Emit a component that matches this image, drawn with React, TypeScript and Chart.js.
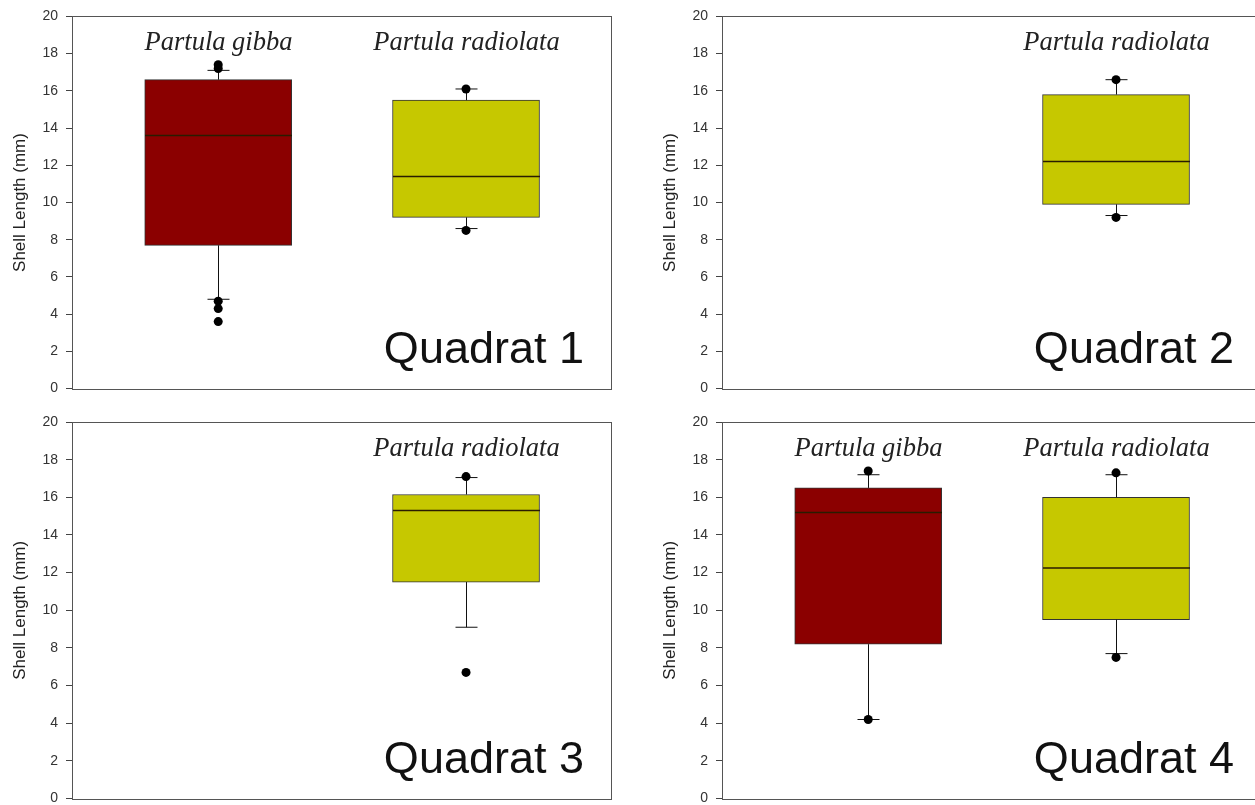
import React, { useEffect, useRef } from 'react';
import { Chart, registerables } from 'chart.js';

Chart.register(...registerables);

// ---------- data ----------
const SPECIES = ['Partula gibba', 'Partula radiolata'];
const SPECIES_COLORS = ['#8b0000', '#c6c800'];
const QUADRAT_LABELS = ['Quadrat 1', 'Quadrat 2', 'Quadrat 3', 'Quadrat 4'];
const Y_MIN = 0;
const Y_MAX = 20;
const Y_STEP = 2;
const Y_TITLE = 'Shell Length (mm)';

// Quadrat 1
const q1Species = ['Partula gibba', 'Partula radiolata'];
const q1Lower = [4.8, 8.6];
const q1Q1 = [7.7, 9.2];
const q1Median = [13.6, 11.4];
const q1Q3 = [16.6, 15.5];
const q1Upper = [17.1, 16.1];
const q1Outliers = [[17.4, 17.2, 4.7, 4.3, 3.6], [16.1, 8.5]];

// Quadrat 2
const q2Species = ['Partula radiolata'];
const q2Lower = [9.3];
const q2Q1 = [9.9];
const q2Median = [12.2];
const q2Q3 = [15.8];
const q2Upper = [16.6];
const q2Outliers = [[16.6, 9.2]];

// Quadrat 3
const q3Species = ['Partula radiolata'];
const q3Lower = [9.1];
const q3Q1 = [11.5];
const q3Median = [15.3];
const q3Q3 = [16.15];
const q3Upper = [17.05];
const q3Outliers = [[17.1, 6.7]];

// Quadrat 4
const q4Species = ['Partula gibba', 'Partula radiolata'];
const q4Lower = [4.2, 7.7];
const q4Q1 = [8.2, 9.5];
const q4Median = [15.2, 12.25];
const q4Q3 = [16.5, 16.0];
const q4Upper = [17.2, 17.2];
const q4Outliers = [[17.4, 4.2], [17.3, 7.5]];

const PANELS = [
  { label: QUADRAT_LABELS[0], species: q1Species, lower: q1Lower, q1: q1Q1, median: q1Median, q3: q1Q3, upper: q1Upper, outliers: q1Outliers },
  { label: QUADRAT_LABELS[1], species: q2Species, lower: q2Lower, q1: q2Q1, median: q2Median, q3: q2Q3, upper: q2Upper, outliers: q2Outliers },
  { label: QUADRAT_LABELS[2], species: q3Species, lower: q3Lower, q1: q3Q1, median: q3Median, q3: q3Q3, upper: q3Upper, outliers: q3Outliers },
  { label: QUADRAT_LABELS[3], species: q4Species, lower: q4Lower, q1: q4Q1, median: q4Median, q3: q4Q3, upper: q4Upper, outliers: q4Outliers },
];

// ---------- layout / style ----------
const LAYOUT = [
  { left: 0, top: 0, w: 620, h: 405, padTop: 16, padBottom: 13 },
  { left: 650, top: 0, w: 620, h: 405, padTop: 16, padBottom: 12 },
  { left: 0, top: 405, w: 620, h: 410, padTop: 17, padBottom: 16 },
  { left: 650, top: 405, w: 620, h: 410, padTop: 17, padBottom: 16 },
];
const X_MIN = 0.41;
const X_MAX = 2.585;
const BOX_PX = 147;
const CAP_PX = 22;

function speciesPos(s: string) {
  return SPECIES.indexOf(s) + 1;
}

function makeExtrasPlugin(panel: any) {
  return {
    id: 'boxExtras',
    afterDatasetDraw(chart: any, args: any) {
      if (args.meta.type !== 'bar') return;
      const { ctx, chartArea } = chart;
      const xs = chart.scales.x;
      const ys = chart.scales.y;
      const line = (x1: number, y1: number, x2: number, y2: number) => {
        ctx.beginPath();
        ctx.moveTo(x1, y1);
        ctx.lineTo(x2, y2);
        ctx.stroke();
      };
      ctx.save();
      panel.species.forEach((s: string, i: number) => {
        const xc = Math.round(xs.getPixelForValue(speciesPos(s))) + 0.5;
        const yUp = ys.getPixelForValue(panel.upper[i]);
        const yQ3 = ys.getPixelForValue(panel.q3[i]);
        const yQ1 = ys.getPixelForValue(panel.q1[i]);
        const yLo = ys.getPixelForValue(panel.lower[i]);
        const yMed = ys.getPixelForValue(panel.median[i]);
        ctx.strokeStyle = '#111';
        ctx.lineWidth = 1;
        line(xc, yQ3, xc, yUp);
        line(xc, yQ1, xc, yLo);
        line(xc - CAP_PX / 2, yUp, xc + CAP_PX / 2, yUp);
        line(xc - CAP_PX / 2, yLo, xc + CAP_PX / 2, yLo);
        ctx.strokeStyle = '#2a1c00';
        ctx.lineWidth = 1.5;
        line(xc - BOX_PX / 2, yMed, xc + BOX_PX / 2, yMed);
        // species label
        ctx.fillStyle = '#222';
        ctx.font = 'italic 26.5px "Liberation Serif", "Times New Roman", serif';
        ctx.textAlign = 'center';
        ctx.textBaseline = 'alphabetic';
        ctx.fillText(s, xc, chartArea.top + 34);
      });
      ctx.restore();
    },
    afterDraw(chart: any) {
      const { ctx, chartArea } = chart;
      ctx.save();
      ctx.fillStyle = '#111';
      ctx.font = '45px "Liberation Sans", Arial, sans-serif';
      ctx.textAlign = 'right';
      ctx.textBaseline = 'alphabetic';
      ctx.fillText(panel.label, chartArea.right - 27, chartArea.bottom - 26);
      ctx.strokeStyle = '#555';
      ctx.lineWidth = 1;
      const l = Math.round(chartArea.left) + 0.5;
      const t = Math.round(chartArea.top) + 0.5;
      const r = Math.round(chartArea.right) + 0.5;
      const b = Math.round(chartArea.bottom) + 0.5;
      ctx.strokeRect(l, t, r - l, b - t);
      ctx.restore();
    },
  };
}

function BoxPanel({ panel, layout }: { panel: any; layout: any }) {
  const ref = useRef<HTMLCanvasElement | null>(null);
  useEffect(() => {
    if (!ref.current) return;
    const boxData = panel.species.map((s: string, i: number) => ({
      x: speciesPos(s),
      y: [panel.q1[i], panel.q3[i]],
    }));
    const boxColors = panel.species.map((s: string) => SPECIES_COLORS[SPECIES.indexOf(s)]);
    const outlierData: any[] = [];
    panel.species.forEach((s: string, i: number) => {
      panel.outliers[i].forEach((v: number) => outlierData.push({ x: speciesPos(s), y: v }));
    });
    const chart = new Chart(ref.current, {
      type: 'bar',
      data: {
        datasets: [
          {
            type: 'bar',
            data: boxData,
            backgroundColor: boxColors,
            borderColor: '#333',
            borderWidth: 1,
            borderSkipped: false,
            barThickness: BOX_PX,
            order: 2,
          } as any,
          {
            type: 'scatter',
            data: outlierData,
            pointRadius: 4.5,
            pointBackgroundColor: '#000',
            pointBorderWidth: 0,
            showLine: false,
            order: 1,
          } as any,
        ],
      },
      options: {
        animation: false,
        responsive: false,
        devicePixelRatio: 1,
        layout: {
          padding: { top: layout.padTop, right: 9, bottom: layout.padBottom, left: 0 },
        },
        plugins: {
          legend: { display: false },
          tooltip: { enabled: false },
          title: { display: false },
        },
        scales: {
          x: {
            type: 'linear',
            min: X_MIN,
            max: X_MAX,
            offset: false,
            display: false,
          },
          y: {
            type: 'linear',
            min: Y_MIN,
            max: Y_MAX,
            afterFit: (scale: any) => {
              scale.width = 72;
            },
            ticks: {
              stepSize: Y_STEP,
              padding: 8,
              color: '#333',
              font: { family: '"Liberation Sans", Arial, sans-serif', size: 14 },
            },
            grid: {
              drawOnChartArea: false,
              drawTicks: true,
              tickLength: 6,
              color: '#444',
            },
            border: { display: true, color: '#444', width: 1 },
            title: {
              display: true,
              text: Y_TITLE,
              color: '#222',
              padding: { top: 10, bottom: 0 },
              font: { family: '"Liberation Sans", Arial, sans-serif', size: 17 },
            },
          },
        },
      },
      plugins: [makeExtrasPlugin(panel)],
    } as any);
    return () => chart.destroy();
  }, [panel, layout]);
  return (
    <canvas
      ref={ref}
      width={layout.w}
      height={layout.h}
      style={{ position: 'absolute', left: layout.left, top: layout.top }}
    />
  );
}

export default function App() {
  return (
    <div
      style={{
        position: 'absolute',
        left: 0,
        top: 0,
        width: 1255,
        height: 805,
        overflow: 'hidden',
        background: '#fff',
      }}
    >
      {PANELS.map((p, i) => (
        <BoxPanel key={i} panel={p} layout={LAYOUT[i]} />
      ))}
    </div>
  );
}
